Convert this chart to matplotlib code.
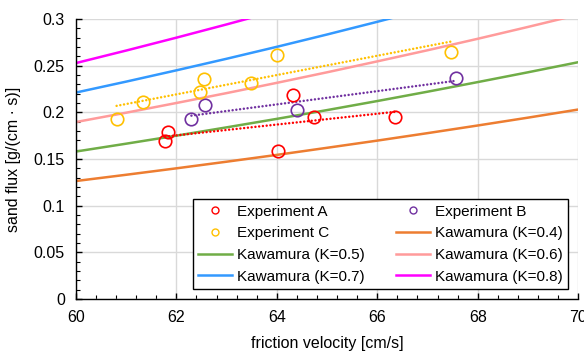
import numpy as np
import matplotlib
matplotlib.use("Agg")
import matplotlib.pyplot as plt
from matplotlib.lines import Line2D

plt.rcParams['font.family'] = ['Liberation Sans', 'DejaVu Sans']

# Experimental data
a_x = [61.78, 61.83, 64.02, 64.33, 64.74, 66.36]
a_y = [0.169, 0.179, 0.159, 0.219, 0.195, 0.195]
b_x = [62.30, 62.58, 64.40, 67.56]
b_y = [0.193, 0.208, 0.202, 0.237]
c_x = [60.81, 61.34, 62.48, 62.56, 63.48, 64.00, 67.47]
c_y = [0.193, 0.211, 0.222, 0.236, 0.231, 0.261, 0.265]

# Kawamura curves
k_x = [60, 61, 62, 63, 64, 65, 66, 67, 68, 69, 70]
k04 = [0.1264, 0.1331, 0.1400, 0.1471, 0.1544, 0.1620, 0.1697, 0.1777, 0.1859, 0.1943, 0.2030]
k05 = [0.1580, 0.1664, 0.1750, 0.1839, 0.1930, 0.2024, 0.2121, 0.2221, 0.2324, 0.2429, 0.2537]
k06 = [0.1896, 0.1996, 0.2100, 0.2206, 0.2316, 0.2429, 0.2546, 0.2665, 0.2788, 0.2915, 0.3045]
k07 = [0.2212, 0.2329, 0.2450, 0.2574, 0.2702, 0.2834, 0.2970, 0.3110, 0.3253, 0.3401, 0.3553]
k08 = [0.2528, 0.2662, 0.2800, 0.2942, 0.3088, 0.3239, 0.3394, 0.3554, 0.3718, 0.3887, 0.4060]

fig = plt.figure(figsize=(5.84, 3.52), dpi=100)
ax = fig.add_axes([0.130, 0.1506, 0.860, 0.7954])

ax.set_xlim(60, 70)
ax.set_ylim(0, 0.3)
ax.set_xticks([60, 62, 64, 66, 68, 70])
ax.set_yticks([0, 0.05, 0.1, 0.15, 0.2, 0.25, 0.3])
ax.set_yticklabels(['0', '0.05', '0.1', '0.15', '0.2', '0.25', '0.3'])
ax.set_xticks(np.arange(60, 70.01, 0.4), minor=True)
ax.set_yticks(np.arange(0, 0.3001, 0.01), minor=True)
ax.grid(True, which='major', color='#d9d9d9', linewidth=1.0)
ax.set_axisbelow(True)
for s in ['top', 'right']:
    ax.spines[s].set_visible(False)
for s in ['left', 'bottom']:
    ax.spines[s].set_color('black')
    ax.spines[s].set_linewidth(1.0)
ax.tick_params(which='major', direction='in', length=4, width=1, labelsize=11.5, pad=8)
ax.tick_params(which='minor', direction='in', length=3, width=0.8)

lw = 1.8
curves = [(k04, '#ED7D31', 'Kawamura (K=0.4)'),
          (k05, '#70AD47', 'Kawamura (K=0.5)'),
          (k06, '#FF9B9B', 'Kawamura (K=0.6)'),
          (k07, '#3399FF', 'Kawamura (K=0.7)'),
          (k08, '#FF00FF', 'Kawamura (K=0.8)')]
handles = {}
for vals, col, lab in curves:
    h, = ax.plot(k_x, vals, color=col, lw=lw, label=lab, clip_on=True)
    handles[lab] = h

exps = [(a_x, a_y, '#FF0000', 'Experiment A'),
        (b_x, b_y, '#7030A0', 'Experiment B'),
        (c_x, c_y, '#FFC000', 'Experiment C')]
for xs, ys, col, lab in exps:
    p = np.polyfit(xs, ys, 1)
    xx = np.array([min(xs), max(xs)])
    ax.plot(xx, np.polyval(p, xx), color=col, lw=1.8, linestyle=(0, (0.01, 1.5)),
            dash_capstyle='round', solid_capstyle='round')
    ax.plot(xs, ys, linestyle='none', marker='o', markersize=9, markerfacecolor='none',
            markeredgecolor=col, markeredgewidth=1.2, clip_on=False, zorder=5)
    handles[lab] = Line2D([], [], linestyle='none', marker='o', markersize=5,
                          markerfacecolor='none', markeredgecolor=col, markeredgewidth=1.0)

order = ['Experiment A', 'Experiment C', 'Kawamura (K=0.5)', 'Kawamura (K=0.7)',
         'Experiment B', 'Kawamura (K=0.4)', 'Kawamura (K=0.6)', 'Kawamura (K=0.8)']
leg = ax.legend([handles[k] for k in order], order, ncol=2, loc='lower left',
                bbox_to_anchor=(0.233, 0.036, 0.747, 0.32), mode='expand',
                fontsize=11, frameon=True, fancybox=False, edgecolor='black',
                framealpha=1, handlelength=2.2, handletextpad=0.33, labelspacing=0.5,
                borderpad=0.35, columnspacing=0.8, borderaxespad=0)
leg.get_frame().set_linewidth(1.0)

ax.set_xlabel('friction velocity [cm/s]', fontsize=11.5, labelpad=8)
ax.set_ylabel('sand flux [g/(cm · s)]', fontsize=11.5, labelpad=9)

fig.savefig('out.png', dpi=100)
